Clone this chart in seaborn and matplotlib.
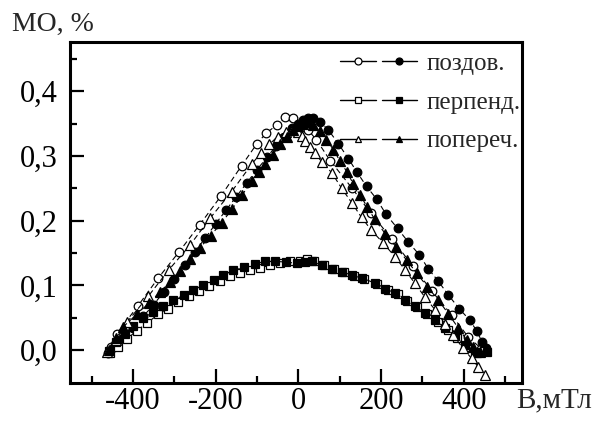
import matplotlib
matplotlib.use("Agg")
import matplotlib.pyplot as plt
import seaborn as sns
from matplotlib.lines import Line2D
from matplotlib.legend_handler import HandlerTuple
from matplotlib.ticker import FixedLocator, FixedFormatter

# ---- data ----
poz_open_x = [-452, -439, -388, -339, -288, -238, -187, -137, -100, -78, -52, -32, -12, 8, 24, 44, 77, 129, 175, 227, 277, 323, 371, 411, 443, 452]
poz_open_y = [0.005, 0.025, 0.068, 0.111, 0.152, 0.194, 0.238, 0.285, 0.319, 0.335, 0.348, 0.360, 0.358, 0.350, 0.340, 0.325, 0.293, 0.251, 0.212, 0.171, 0.130, 0.091, 0.054, 0.020, 0.002, 0.002]

poz_fill_x = [-460, -445, -425, -400, -375, -350, -325, -300, -275, -250, -225, -200, -175, -150, -125, -100, -75, -55, -35, -15, 0, 12, 24, 36,
              52, 73, 97, 121, 141, 165, 190, 212, 240, 266, 293, 314, 339, 363, 389, 415, 431, 445, 455]
poz_fill_y = [-0.004, 0.005, 0.018, 0.034, 0.052, 0.070, 0.090, 0.110, 0.131, 0.152, 0.173, 0.195, 0.216, 0.237, 0.258, 0.279, 0.298, 0.315, 0.330, 0.343, 0.350, 0.355, 0.359, 0.358,
              0.353, 0.340, 0.319, 0.296, 0.276, 0.253, 0.233, 0.210, 0.188, 0.167, 0.147, 0.126, 0.106, 0.085, 0.064, 0.046, 0.030, 0.012, 0.003]

perp_open_x = [-455, -437, -415, -390, -365, -339, -315, -290, -265, -240, -215, -190, -165, -140, -117, -93, -68, -44, -20, 5, 20,
               38, 62, 86, 110, 135, 160, 190, 216, 240, 264, 288, 312, 337, 361, 385, 409, 433, 450]
perp_open_y = [-0.004, 0.005, 0.017, 0.030, 0.042, 0.055, 0.064, 0.074, 0.083, 0.091, 0.099, 0.107, 0.114, 0.119, 0.124, 0.127, 0.131, 0.135, 0.137, 0.138, 0.140,
               0.138, 0.131, 0.126, 0.121, 0.115, 0.110, 0.102, 0.093, 0.086, 0.076, 0.066, 0.055, 0.043, 0.031, 0.018, 0.005, -0.004, -0.002]

perp_fill_x = [-458, -440, -420, -400, -375, -351, -326, -302, -276, -254, -230, -204, -181, -157, -131, -105, -81, -56, -30, -4, 16,
               32, 57, 81, 105, 129, 153, 186, 210, 234, 258, 282, 306, 331, 355, 379, 403, 427, 456]
perp_fill_y = [-0.002, 0.012, 0.025, 0.037, 0.049, 0.059, 0.068, 0.077, 0.085, 0.093, 0.100, 0.109, 0.116, 0.123, 0.128, 0.133, 0.137, 0.137, 0.136, 0.134, 0.136,
               0.137, 0.131, 0.126, 0.121, 0.116, 0.111, 0.104, 0.095, 0.088, 0.078, 0.068, 0.057, 0.046, 0.034, 0.021, 0.008, -0.003, -0.003]

pop_open_x = [-462, -440, -413, -363, -313, -262, -213, -161, -113, -90, -70, -50, -30, -15, 0, 8, 16, 28, 40, 57, 81, 105, 129, 153, 177, 206, 234, 258, 282, 306, 331, 355, 375, 398, 419, 435, 452]
pop_open_y = [-0.003, 0.015, 0.044, 0.083, 0.124, 0.162, 0.204, 0.245, 0.287, 0.305, 0.318, 0.330, 0.337, 0.340, 0.337, 0.331, 0.323, 0.314, 0.304, 0.291, 0.274, 0.250, 0.228, 0.205, 0.185, 0.165, 0.144, 0.124, 0.103, 0.082, 0.062, 0.040, 0.023, 0.003, -0.013, -0.026, -0.039]

pop_fill_x = [-458, -440, -423, -391, -360, -334, -310, -286, -262, -238, -212, -185, -160, -135, -113, -96, -80, -62, -44, -28, -12, 0, 12, 24,
              36, 52, 68, 85, 100, 117, 133, 149, 167, 185, 210, 236, 262, 286, 312, 339, 363, 387, 407, 423, 440]
pop_fill_y = [0.0, 0.018, 0.036, 0.055, 0.073, 0.090, 0.105, 0.122, 0.140, 0.158, 0.177, 0.197, 0.218, 0.240, 0.262, 0.275, 0.288, 0.302, 0.318, 0.330, 0.340, 0.346, 0.350, 0.352,
              0.348, 0.338, 0.325, 0.310, 0.293, 0.276, 0.257, 0.240, 0.221, 0.202, 0.180, 0.160, 0.139, 0.119, 0.098, 0.077, 0.056, 0.034, 0.016, 0.005, -0.003]

legend_labels = ["поздов.", "перпенд.", "попереч."]
x_ticks = [-400, -200, 0, 200, 400]
x_ticklabels = ["-400", "-200", "0", "200", "400"]
y_ticks = [0.0, 0.1, 0.2, 0.3, 0.4]
y_ticklabels = ["0,0", "0,1", "0,2", "0,3", "0,4"]
x_label = "В,мТл"
y_label = "МО, %"

# ---- style ----
sns.set_style("white")
plt.rcParams["font.family"] = ["Liberation Serif", "DejaVu Serif"]

fig = plt.figure(figsize=(5.95, 4.28), dpi=100)
ax = fig.add_axes([70 / 595, (428 - 383) / 428, (522 - 70) / 595, (383 - 41.5) / 428])

series = [
    (poz_open_x, poz_open_y, "o", "white", 6.2),
    (poz_fill_x, poz_fill_y, "o", "black", 6.2),
    (perp_open_x, perp_open_y, "s", "white", 5.4),
    (perp_fill_x, perp_fill_y, "s", "black", 5.4),
    (pop_open_x, pop_open_y, "^", "white", 7.0),
    (pop_fill_x, pop_fill_y, "^", "black", 7.0),
]
for xs, ys, mk, fc, ms in series:
    sns.lineplot(x=xs, y=ys, ax=ax, sort=False, estimator=None, legend=False,
                 color="black", linewidth=0.8, linestyle=(0, (5, 3)), marker=mk, markersize=ms,
                 markerfacecolor=fc, markeredgecolor="black", markeredgewidth=0.9)

ax.set_xlim(-552, 541)
ax.set_ylim(-0.051, 0.477)
ax.xaxis.set_major_locator(FixedLocator(x_ticks))
ax.xaxis.set_major_formatter(FixedFormatter(x_ticklabels))
ax.yaxis.set_major_locator(FixedLocator(y_ticks))
ax.yaxis.set_major_formatter(FixedFormatter(y_ticklabels))
ax.xaxis.set_minor_locator(FixedLocator([-500, -300, -100, 100, 300, 500]))
ax.yaxis.set_minor_locator(FixedLocator([0.05, 0.15, 0.25, 0.35, 0.45]))
ax.tick_params(which="both", direction="in", bottom=True, left=True, top=False, right=False,
               colors="black", width=1.6)
ax.tick_params(which="major", length=10, labelsize=22)
ax.tick_params(which="minor", length=5)
ax.tick_params(axis="y", which="major", pad=9)
ax.tick_params(axis="x", which="major", pad=3)
for sp in ax.spines.values():
    sp.set_linewidth(2.2)
    sp.set_color("black")
    sp.set_visible(True)
ax.set_xlabel("")
ax.set_ylabel("")

fig.text(12 / 595, 1 - 31 / 428, y_label, fontsize=20, va="baseline", ha="left")
fig.text(516 / 595, 1 - 407 / 428, x_label, fontsize=21, va="baseline", ha="left")

def pair(mk):
    h1 = Line2D([], [], color="black", linewidth=1.0, marker=mk, markersize=5,
                markerfacecolor="white", markeredgecolor="black", markeredgewidth=0.9)
    h2 = Line2D([], [], color="black", linewidth=1.0, marker=mk, markersize=5,
                markerfacecolor="black", markeredgecolor="black", markeredgewidth=0.9)
    return (h1, h2)

handles = [pair("o"), pair("s"), pair("^")]
ax.legend(handles, legend_labels, handler_map={tuple: HandlerTuple(ndivide=None, pad=0.24)},
          loc="upper left", bbox_to_anchor=(0.597, 0.968), frameon=False, fontsize=18,
          handlelength=3.1, handletextpad=0.36, labelspacing=0.65, borderpad=0, borderaxespad=0,
          numpoints=1)

fig.savefig("out.png", dpi=100, facecolor="white")
